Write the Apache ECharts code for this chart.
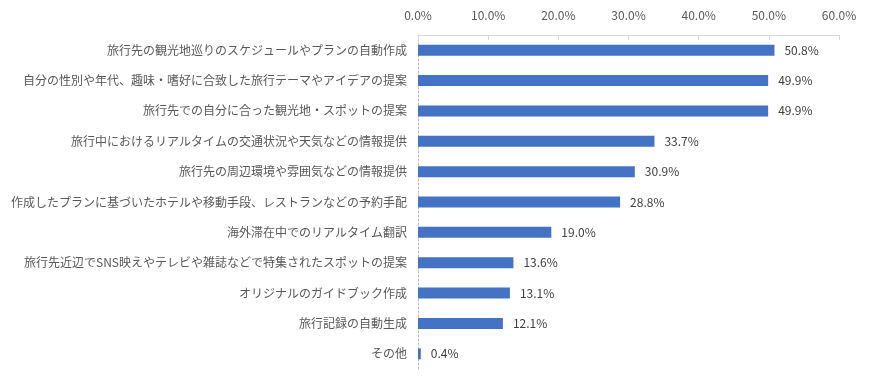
<!DOCTYPE html>
<html><head><meta charset="utf-8">
<script src="https://cdn.jsdelivr.net/npm/echarts@6/dist/echarts.min.js"></script>
<style>html,body{margin:0;padding:0;background:#fff}#c{width:873px;height:384px}</style>
</head><body><div id="c"></div>
<script>
const categories = [
  '旅行先の観光地巡りのスケジュールやプランの自動作成',
  '自分の性別や年代、趣味・嗜好に合致した旅行テーマやアイデアの提案',
  '旅行先での自分に合った観光地・スポットの提案',
  '旅行中におけるリアルタイムの交通状況や天気などの情報提供',
  '旅行先の周辺環境や雰囲気などの情報提供',
  '作成したプランに基づいたホテルや移動手段、レストランなどの予約手配',
  '海外滞在中でのリアルタイム翻訳',
  '旅行先近辺でSNS映えやテレビや雑誌などで特集されたスポットの提案',
  'オリジナルのガイドブック作成',
  '旅行記録の自動生成',
  'その他'
];
const values = [50.8, 49.9, 49.9, 33.7, 30.9, 28.8, 19.0, 13.6, 13.1, 12.1, 0.4];
const tickMin = 0, tickMax = 60, tickStep = 10;

const font = '"Noto Sans CJK JP", sans-serif';
const chart = echarts.init(document.getElementById('c'), null, {renderer: 'canvas'});
chart.setOption({
  animation: false,
  grid: {left: 418, right: 34, top: 35, bottom: 15, containLabel: false},
  xAxis: {
    type: 'value', position: 'top', min: tickMin, max: tickMax, interval: tickStep,
    axisLine: {show: true, lineStyle: {color: '#d9d9d9'}},
    axisTick: {show: true, inside: true, length: 5, lineStyle: {color: '#d9d9d9'}},
    splitLine: {show: false},
    axisLabel: {formatter: v => v.toFixed(1) + '%', color: '#595959', fontSize: 12, fontFamily: font, margin: 14}
  },
  yAxis: {
    type: 'category', inverse: true, data: categories,
    axisLine: {show: true, lineStyle: {color: '#bfbfbf', type: [2, 2]}},
    axisTick: {show: false},
    axisLabel: {color: '#595959', fontSize: 12, fontFamily: font, margin: 11}
  },
  series: [{
    type: 'bar', data: values, barWidth: 11,
    itemStyle: {color: '#4472C4'},
    label: {show: true, position: 'right', distance: 10, formatter: p => p.value.toFixed(1) + '%',
      color: '#404040', fontSize: 12, fontFamily: font}
  }]
});
</script></body></html>
